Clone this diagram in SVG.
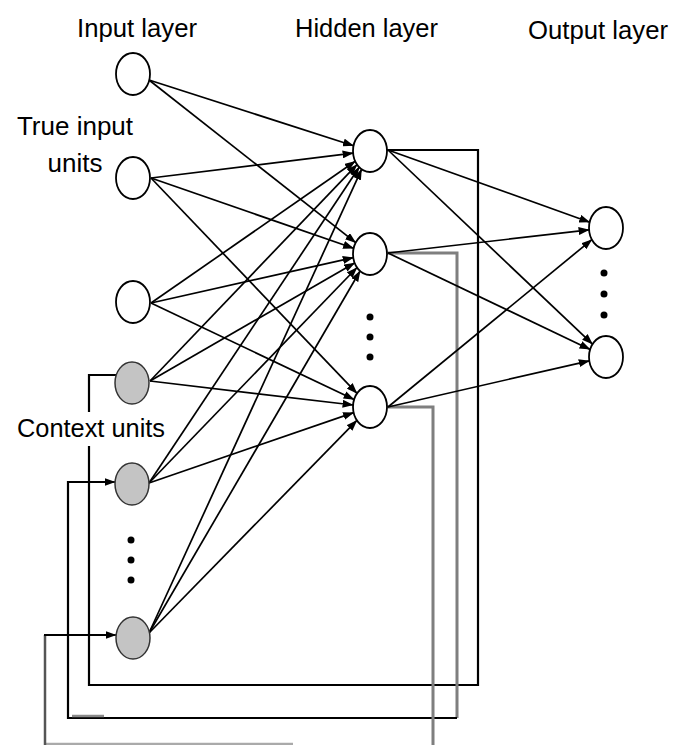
<svg xmlns="http://www.w3.org/2000/svg" width="682" height="745" viewBox="0 0 682 745">
<defs>
<marker id="ah" markerWidth="11" markerHeight="8" refX="10.5" refY="4" orient="auto" markerUnits="userSpaceOnUse"><path d="M0,0 L11,4 L0,8 z" fill="#000"/></marker>
<style>
.lbl{font-family:"Liberation Sans",Arial,sans-serif;font-size:26px;fill:#000}
.n{fill:#fff;stroke:#000;stroke-width:1.8}
.c{fill:#c4c4c4;stroke:#333;stroke-width:1.5}
.e{stroke:#000;stroke-width:1.7;fill:none;marker-end:url(#ah)}
.fb{stroke:#000;stroke-width:2.2;fill:none}
.fg{stroke:#7f7f7f;stroke-width:3;fill:none}
.dot{fill:#000}
</style>
</defs>
<rect width="682" height="745" fill="#fff"/>
<text class="lbl" x="77" y="37" textLength="120" lengthAdjust="spacingAndGlyphs">Input layer</text>
<text class="lbl" x="295" y="37" textLength="143" lengthAdjust="spacingAndGlyphs">Hidden layer</text>
<text class="lbl" x="528" y="39" textLength="140" lengthAdjust="spacingAndGlyphs">Output layer</text>
<text class="lbl" x="75" y="135" text-anchor="middle">True input</text>
<text class="lbl" x="75" y="172" text-anchor="middle">units</text>
<text class="lbl" x="17" y="437" textLength="148" lengthAdjust="spacingAndGlyphs">Context units</text>
<g id="connectors">
<path class="fb" d="M387,150 H478 V685 H89 V446 M89,412 V375 H116"/>
<path class="fg" d="M387,253 H457 V718"/>
<path class="fb" d="M457,718 H68 V482 H107"/>
<path d="M106,482 H115" class="e"/>
<path d="M72,716 H104" stroke="#8a8a8a" stroke-width="2.5"/>
<path class="fg" d="M387,407 H433 V745"/>
<path d="M45,744 H293" stroke="#aaa" stroke-width="2.5"/>
<path d="M45,745 V635" stroke="#555" stroke-width="2.5"/>
<path class="fb" d="M44,635 H108"/>
<path d="M107,635 H116" class="e"/>
<line class="e" x1="149" y1="80" x2="353.5" y2="145.7"/>
<line class="e" x1="151" y1="178" x2="353.1" y2="153.1"/>
<line class="e" x1="151" y1="303" x2="355.2" y2="161.3"/>
<line class="e" x1="150" y1="381" x2="357" y2="164.6"/>
<line class="e" x1="149" y1="483" x2="359.2" y2="167.2"/>
<line class="e" x1="149" y1="633" x2="361.6" y2="169.3"/>
<line class="e" x1="149" y1="80" x2="355.7" y2="242.7"/>
<line class="e" x1="151" y1="178" x2="353.6" y2="248.3"/>
<line class="e" x1="151" y1="303" x2="353.3" y2="257.7"/>
<line class="e" x1="150" y1="381" x2="354.6" y2="262.9"/>
<line class="e" x1="149" y1="483" x2="357" y2="267.5"/>
<line class="e" x1="149" y1="633" x2="360.1" y2="271"/>
<line class="e" x1="151" y1="178" x2="357" y2="393.4"/>
<line class="e" x1="151" y1="303" x2="354.1" y2="399.5"/>
<line class="e" x1="150" y1="381" x2="353.1" y2="405"/>
<line class="e" x1="149" y1="483" x2="353.6" y2="412.6"/>
<line class="e" x1="149" y1="633" x2="356.9" y2="420.4"/>
<line class="e" x1="388" y1="150" x2="589.7" y2="222.2"/>
<line class="e" x1="388" y1="253" x2="589.1" y2="229.9"/>
<line class="e" x1="388" y1="407" x2="591.9" y2="239.6"/>
<line class="e" x1="388" y1="150" x2="592.5" y2="344.2"/>
<line class="e" x1="388" y1="253" x2="590.1" y2="349.4"/>
<line class="e" x1="388" y1="407" x2="589.3" y2="360.8"/>
</g>
<g id="input1"><ellipse class="n" cx="133" cy="74" rx="17" ry="21"/></g>
<g id="input2"><ellipse class="n" cx="133" cy="178" rx="17" ry="21"/></g>
<g id="input3"><ellipse class="n" cx="133" cy="302" rx="17" ry="21"/></g>
<g id="context1"><ellipse class="c" cx="132" cy="383" rx="17" ry="21"/></g>
<g id="context2"><ellipse class="c" cx="132" cy="484" rx="17" ry="21"/></g>
<g id="context-dots"><circle class="dot" cx="131" cy="540" r="3.5"/><circle class="dot" cx="131" cy="560" r="3.5"/><circle class="dot" cx="131" cy="580" r="3.5"/></g>
<g id="context3"><ellipse class="c" cx="133" cy="638" rx="17" ry="21"/></g>
<g id="hidden1"><ellipse class="n" cx="370" cy="151" rx="17" ry="21"/></g>
<g id="hidden2"><ellipse class="n" cx="370" cy="254" rx="17" ry="21"/></g>
<g id="hidden-dots"><circle class="dot" cx="370" cy="317" r="3.5"/><circle class="dot" cx="370" cy="337" r="3.5"/><circle class="dot" cx="370" cy="357" r="3.5"/></g>
<g id="hidden3"><ellipse class="n" cx="370" cy="407" rx="17" ry="21"/></g>
<g id="output1"><ellipse class="n" cx="606" cy="228" rx="17" ry="21"/></g>
<g id="output-dots"><circle class="dot" cx="604" cy="273" r="3.5"/><circle class="dot" cx="604" cy="294" r="3.5"/><circle class="dot" cx="604" cy="315" r="3.5"/></g>
<g id="output2"><ellipse class="n" cx="606" cy="357" rx="17" ry="21"/></g>
</svg>
